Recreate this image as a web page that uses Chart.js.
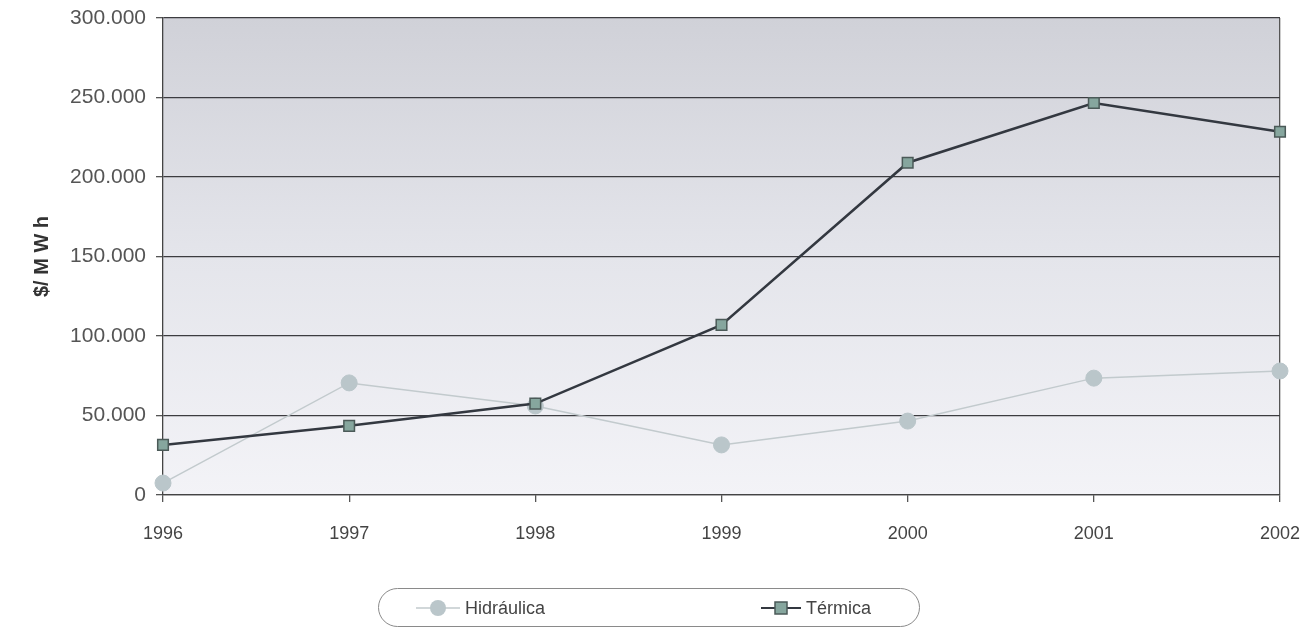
<!DOCTYPE html>
<html>
<head>
<meta charset="utf-8">
<script src="https://cdn.jsdelivr.net/npm/chart.js@4.4.0/dist/chart.umd.min.js"></script>
<style>
  body { margin: 0; background: #fff; font-family: 'Liberation Sans', Arial, sans-serif; }
  #wrap { position: relative; width: 1300px; height: 630px; }
  #legend {
    position: absolute; left: 378px; top: 588px; width: 542px; height: 39px;
    border: 1.5px solid #8a8a8a; border-radius: 20px; box-sizing: border-box;
  }
  .item { position: absolute; top: 0; height: 38px; display: flex; align-items: center; font-size: 18px; color: #444; }
  .item svg { margin-right: 3px; }
</style>
</head>
<body>
<div id="wrap">
  <canvas id="chart" width="1300" height="630"></canvas>
  <div id="legend"></div>
</div>
<script>
// años y valores ($/MWh)
const years = ["1996", "1997", "1998", "1999", "2000", "2001", "2002"];
const hidraulica = [7500, 70500, 56000, 31500, 46500, 73500, 78000];
const termica = [31500, 43500, 57500, 107000, 209000, 246500, 228500];
const yTicks = [0, 50000, 100000, 150000, 200000, 250000, 300000];

const colHidLine = '#c2cacd', colHidPt = '#bac6ca';
const colTerLine = '#333840', colTerPt = '#86a69e';

// fondo degradado del área de trazado
const bgPlugin = {
    id: 'bg',
    beforeDraw(chart) {
        const { ctx, chartArea: a } = chart;
        const g = ctx.createLinearGradient(0, a.top, 0, a.bottom);
        g.addColorStop(0, '#d0d1d8');
        g.addColorStop(0.5, '#e4e5eb');
        g.addColorStop(1, '#f3f3f7');
        ctx.save();
        ctx.fillStyle = g;
        ctx.fillRect(a.left, a.top, a.right - a.left, a.bottom - a.top);
        ctx.restore();
    }
};

const chart = new Chart(document.getElementById('chart'), {
    type: 'line',
    data: {
        labels: years,
        datasets: [
            { label: 'Hidráulica', data: hidraulica, order: 1, borderColor: colHidLine, borderWidth: 1.5,
              pointStyle: 'circle', pointRadius: 8, pointBackgroundColor: colHidPt, pointBorderColor: colHidPt, pointBorderWidth: 1, tension: 0 },
            { label: 'Térmica', data: termica, order: 0, borderColor: colTerLine, borderWidth: 2.5,
              pointStyle: 'rect', pointRadius: 7.5, pointBackgroundColor: colTerPt, pointBorderColor: '#4b5a58', pointBorderWidth: 1.5, tension: 0 }
        ]
    },
    options: {
        responsive: false,
        animation: false,
        layout: { padding: { left: 30, top: 18, right: 0, bottom: 0 } },
        plugins: { legend: { display: false }, tooltip: { enabled: false } },
        scales: {
            x: {
                offset: false,
                afterFit: s => { s.height = 135; s.paddingRight = 20; },
                grid: { drawOnChartArea: true, color: c => c.index === years.length - 1 ? '#555' : 'rgba(0,0,0,0)', lineWidth: 1.3, tickLength: 7, tickColor: '#555' },
                border: { color: '#444', width: 1.3 },
                ticks: { padding: 21, color: '#444', font: { family: 'Liberation Sans', size: 18 } }
            },
            y: {
                min: 0, max: 300000,
                afterFit: s => { s.width = 133; s.paddingTop = 0; s.paddingBottom = 0; },
                afterBuildTicks: s => { s.ticks = yTicks.map(v => ({ value: v })); },
                grid: { color: '#3c3c40', lineWidth: 1.3, tickLength: 7, tickColor: '#555' },
                border: { color: '#444', width: 1.3 },
                ticks: { padding: 10, color: '#555', font: { family: 'Liberation Sans', size: 21 },
                         callback: v => v.toLocaleString('de-DE') },
                title: { display: true, text: '$/ M W h', color: '#333', padding: { top: 0, bottom: 0 },
                         font: { family: 'Liberation Sans', size: 20, weight: 'bold' } }
            }
        }
    },
    plugins: [bgPlugin]
});

// leyenda
const legend = document.getElementById('legend');
const items = [
    { x: 35, html: `<svg width="48" height="20"><line x1="2" y1="10" x2="46" y2="10" stroke="${colHidLine}" stroke-width="1.5"/><circle cx="24" cy="10" r="8" fill="${colHidPt}"/></svg>`, text: 'Hidráulica' },
    { x: 380, html: `<svg width="44" height="20"><line x1="2" y1="10" x2="42" y2="10" stroke="${colTerLine}" stroke-width="2"/><rect x="16" y="4" width="12" height="12" fill="${colTerPt}" stroke="#4b5a58" stroke-width="1.5"/></svg>`, text: 'Térmica' }
];
items.forEach(it => {
    const d = document.createElement('div');
    d.className = 'item';
    d.style.left = it.x + 'px';
    d.innerHTML = it.html + '<span>' + it.text + '</span>';
    legend.appendChild(d);
});
</script>
</body>
</html>
